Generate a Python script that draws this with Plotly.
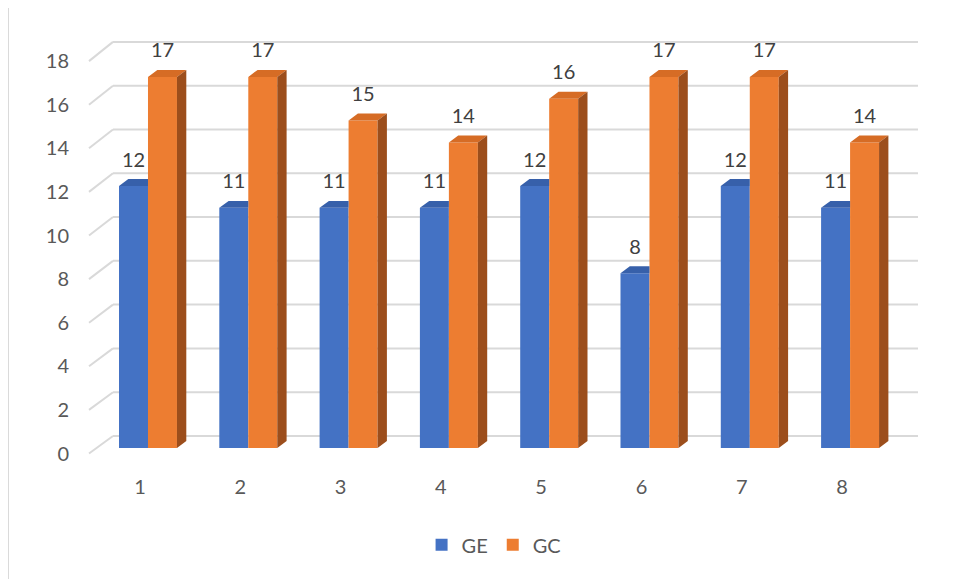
import plotly.graph_objects as go

# ---- data ----
categories = [1, 2, 3, 4, 5, 6, 7, 8]
ge_values = [12, 11, 11, 11, 12, 8, 12, 11]
gc_values = [17, 17, 15, 14, 16, 17, 17, 14]
y_ticks = [0, 2, 4, 6, 8, 10, 12, 14, 16, 18]
series_names = ["GE", "GC"]

# ---- style / geometry ----
BLUE = "#4472C4"
BLUE_TOP = "#3760AA"
ORANGE = "#ED7D31"
ORANGE_TOP = "#D66C25"
ORANGE_SIDE = "#9C4E1C"
GRID = "#D9D9D9"
FONT = "Lato, Carlito, Calibri, sans-serif"
FS = 20

BW = 0.289          # bar width (category units)
DX = 0.093          # depth offset x
DY = 0.32           # depth offset y
LBL = 0.80          # label lift above the top face

# wall planes relative to bar-front plane
def back_y(v):
    return 0.55 + 1.003 * v

def front_y(v):
    return -0.252 + 0.9986 * v

X_BACK_L, X_BACK_R, X_FRONT_L = 0.651, 8.677, 0.412

fig = go.Figure()

# front faces
fig.add_trace(go.Bar(x=categories, y=ge_values, width=BW, offset=-BW,
                     marker=dict(color=BLUE, line=dict(width=0)), name=series_names[0]))
fig.add_trace(go.Bar(x=categories, y=gc_values, width=BW, offset=0,
                     marker=dict(color=ORANGE, line=dict(width=0)), name=series_names[1]))

# top and side faces (polygons derived from data)
bx, by = [], []
for c, v in zip(categories, ge_values):
    L = c - BW
    bx += [L, c, c, L + DX, L, None]
    by += [v, v, v + DY, v + DY, v, None]
ox, oy, sx, sy = [], [], [], []
for c, v in zip(categories, gc_values):
    L, R = c, c + BW
    ox += [L, R, R + DX, L + DX, L, None]
    oy += [v, v, v + DY, v + DY, v, None]
    sx += [R, R + DX, R + DX, R, R, None]
    sy += [0, DY, v + DY, v, 0, None]

for xs, ys, col in [(bx, by, BLUE_TOP), (ox, oy, ORANGE_TOP), (sx, sy, ORANGE_SIDE)]:
    fig.add_trace(go.Scatter(x=xs, y=ys, mode="lines", fill="toself", fillcolor=col,
                             line=dict(width=0, color=col), showlegend=False,
                             hoverinfo="skip"))

# data labels
fig.add_trace(go.Scatter(x=[c - BW / 2 for c in categories],
                         y=[v + DY + LBL for v in ge_values],
                         text=[str(v) for v in ge_values], mode="text",
                         textfont=dict(family=FONT, size=FS, color="#404040"),
                         showlegend=False, hoverinfo="skip"))
fig.add_trace(go.Scatter(x=[c + BW / 2 for c in categories],
                         y=[v + DY + LBL for v in gc_values],
                         text=[str(v) for v in gc_values], mode="text",
                         textfont=dict(family=FONT, size=FS, color="#404040"),
                         showlegend=False, hoverinfo="skip"))

# gridlines: back wall + side diagonals
shapes = []
for t in y_ticks:
    shapes.append(dict(type="line", xref="x", yref="y", layer="below",
                       x0=X_BACK_L, x1=X_BACK_R, y0=back_y(t), y1=back_y(t),
                       line=dict(color=GRID, width=2)))
    shapes.append(dict(type="line", xref="x", yref="y", layer="below",
                       x0=X_FRONT_L, x1=X_BACK_L, y0=front_y(t), y1=back_y(t),
                       line=dict(color=GRID, width=2)))
# outer chart frame
shapes.append(dict(type="rect", xref="paper", yref="paper",
                   x0=-0.0917, x1=1.2, y0=-0.4, y1=1.0568,
                   line=dict(color=GRID, width=2), layer="below"))

fig.update_layout(
    width=961, height=579,
    margin=dict(l=77, r=44, t=22, b=117),
    paper_bgcolor="white", plot_bgcolor="white",
    barmode="overlay",
    shapes=shapes,
    font=dict(family=FONT, size=FS, color="#595959"),
    showlegend=True,
    legend=dict(orientation="h", x=0.487, xanchor="center", y=-0.17, yanchor="middle",
                font=dict(family=FONT, size=FS, color="#595959"),
                itemwidth=30),
    xaxis=dict(range=[0.372, 8.747], showgrid=False, zeroline=False, showline=False,
               tickmode="array", tickvals=[c - 0.08 for c in categories],
               ticktext=[str(c) for c in categories], ticks="",
               ticklabelstandoff=3, fixedrange=True),
    yaxis=dict(range=[-1.008, 19.148], showgrid=False, zeroline=False, showline=False,
               tickmode="array", tickvals=[front_y(t) for t in y_ticks],
               ticktext=[str(t) for t in y_ticks], ticks="",
               ticklabelstandoff=15, fixedrange=True),
)

fig.write_html("out.html")
